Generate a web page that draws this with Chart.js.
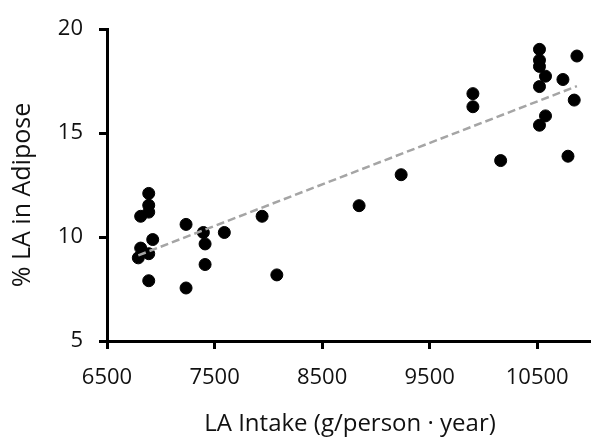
<!DOCTYPE html>
<html lang="en">
<head>
  <meta charset="UTF-8" />
  <title>LA Intake vs Adipose</title>
  <script src="https://cdn.jsdelivr.net/npm/chart.js"></script>
  <style>
    body {
      margin: 0;
      padding: 0;
      background: #fff;
    }

    #chartContainer {
      width: 591px;
      height: 437px;
    }
  </style>
</head>
<body>
  <div id="chartContainer">
    <canvas id="laChart"></canvas>
  </div>

  <script>
    // LA intake (g/person·year) per point
    const intake = [
      6791, 6813, 6813, 6888, 6888, 6888, 6888, 6888, 6925,
      7235, 7235, 7396, 7412, 7412, 7591, 7942, 8079,
      8844, 9235, 9902, 9902, 10160,
      10521, 10521, 10521, 10577, 10521, 10739, 10869, 10844, 10577, 10521, 10786
    ];
    // % LA in adipose per point
    const adipose = [
      9.0, 9.47, 11.0, 7.9, 9.2, 11.2, 11.53, 12.1, 9.88,
      10.61, 7.55, 10.22, 9.67, 8.68, 10.22, 11.0, 8.18,
      11.51, 13.0, 16.9, 16.27, 13.68,
      19.03, 18.51, 18.21, 17.74, 17.24, 17.58, 18.71, 16.59, 15.83, 15.38, 13.89
    ];

    // trend line ends
    const trendX = [6791, 10869];
    const trendY = [9.12, 17.26];

    const xTicks = [6500, 7500, 8500, 9500, 10500];
    const yTicks = [5, 10, 15, 20];

    const xTitle = 'LA Intake (g/person · year)';
    const yTitle = '% LA in Adipose';

    const FONT = "'Open Sans', sans-serif";

    const titlesPlugin = {
      id: 'axisTitles',
      afterDraw(chart) {
        const ctx = chart.ctx;
        ctx.save();
        ctx.fillStyle = '#111';
        ctx.textAlign = 'center';
        ctx.textBaseline = 'middle';
        ctx.font = '24px ' + FONT;
        ctx.fillText(xTitle, 350, 424);
        ctx.font = '25px ' + FONT;
        ctx.translate(23, 195);
        ctx.rotate(-Math.PI / 2);
        ctx.fillText(yTitle, 0, 0);
        ctx.restore();
      }
    };

    const ctx = document.getElementById('laChart').getContext('2d');
    new Chart(ctx, {
      type: 'scatter',
      data: {
        datasets: [
          {
            type: 'line',
            data: trendX.map((x, i) => ({ x: x, y: trendY[i] })),
            borderColor: '#a5a5a5',
            borderWidth: 2.5,
            borderDash: [8, 4],
            pointRadius: 0,
            fill: false,
            order: 0
          },
          {
            data: intake.map((x, i) => ({ x: x, y: adipose[i] })),
            backgroundColor: '#000',
            borderColor: '#000',
            pointRadius: 6,
            pointHoverRadius: 6,
            order: 1
          }
        ]
      },
      options: {
        responsive: true,
        maintainAspectRatio: false,
        animation: false,
        layout: {
          autoPadding: false,
          padding: { top: 22, right: 0, left: 0, bottom: 0 }
        },
        plugins: {
          legend: { display: false },
          tooltip: { enabled: false }
        },
        scales: {
          x: {
            type: 'linear',
            min: 6500,
            max: 11000,
            afterBuildTicks: scale => {
              scale.ticks = xTicks.map(v => ({ value: v }));
            },
            afterFit: scale => {
              scale.height = 96;
              scale.paddingRight = 0;
            },
            border: { color: '#000', width: 3 },
            grid: {
              drawOnChartArea: false,
              drawTicks: true,
              tickLength: 8,
              color: '#000',
              lineWidth: 3
            },
            ticks: {
              color: '#111',
              padding: 16,
              maxRotation: 0,
              font: { family: FONT, size: 22 },
              callback: v => String(v)
            }
          },
          y: {
            type: 'linear',
            min: 5,
            max: 20,
            afterBuildTicks: scale => {
              scale.ticks = yTicks.map(v => ({ value: v }));
            },
            afterFit: scale => {
              scale.width = 107;
            },
            border: { color: '#000', width: 3 },
            grid: {
              drawOnChartArea: false,
              drawTicks: true,
              tickLength: 8,
              color: '#000',
              lineWidth: 3
            },
            ticks: {
              color: '#111',
              padding: 16,
              font: { family: FONT, size: 22 }
            }
          }
        }
      },
      plugins: [titlesPlugin]
    });
  </script>
</body>
</html>
